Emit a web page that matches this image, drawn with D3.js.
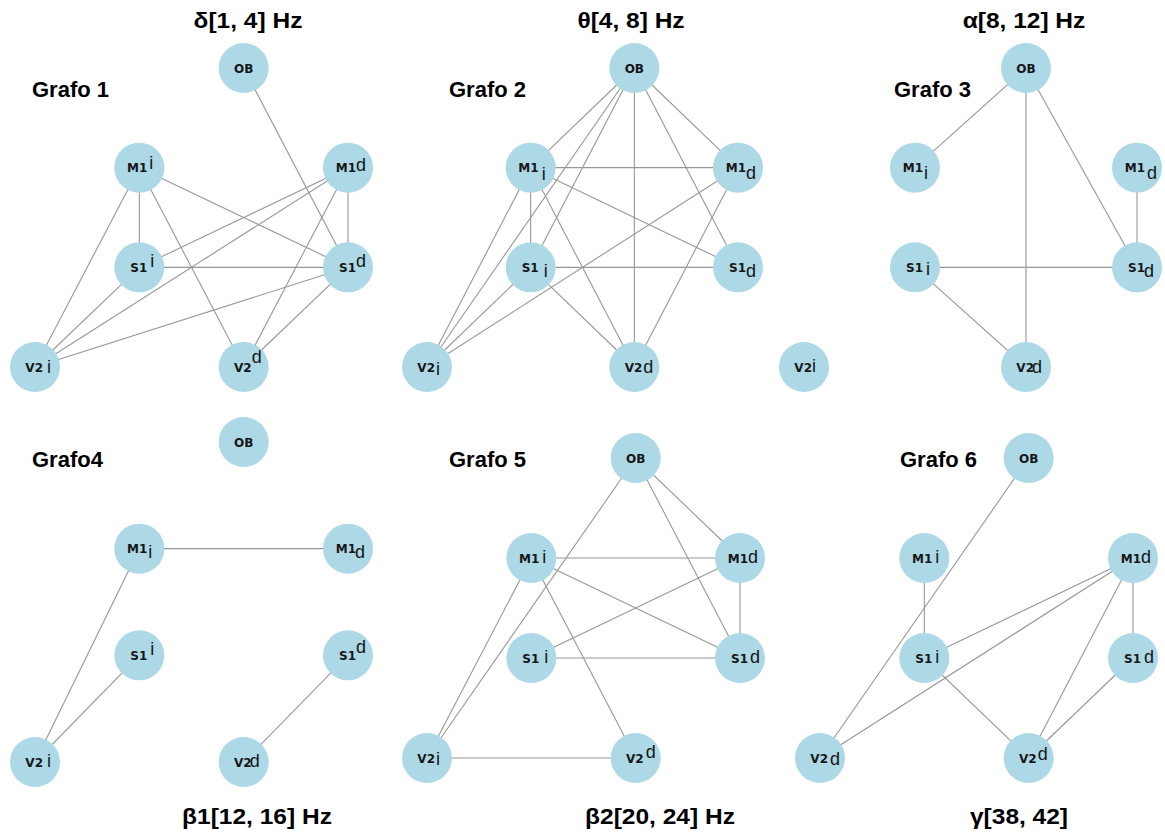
<!DOCTYPE html>
<html>
<head>
<meta charset="utf-8">
<script src="https://cdn.jsdelivr.net/npm/d3@7"></script>
<style>
  html, body { margin: 0; padding: 0; background: #ffffff; }
  svg { display: block; }
</style>
</head>
<body>
<svg id="chart" width="1165" height="835"></svg>
<script>
// Frequency bands and graph names
const bandTitles = ["δ[1, 4] Hz", "θ[4, 8] Hz", "α[8, 12] Hz", "β1[12, 16] Hz", "β2[20, 24] Hz", "γ[38, 42]"];
const graphNames = ["Grafo 1", "Grafo 2", "Grafo 3", "Grafo4", "Grafo 5", "Grafo 6"];

// Nodes (regions) shared by every graph
const nodeIds = ["OB", "M1i", "M1d", "S1i", "S1d", "V2i", "V2d"];
const nodeBase = ["OB", "M1", "M1", "S1", "S1", "V2", "V2"];
const suffixes1 = ["", "i", "d", "i", "d", "i", "d"];
const suffixes2 = ["", "i", "d", "i", "d", "i", "d"];
const suffixes3 = ["", "i", "d", "i", "d", "i", "d"];
const suffixes4 = ["", "i", "d", "i", "d", "i", "d"];
const suffixes5 = ["", "i", "d", "i", "d", "i", "d"];
const suffixes6 = ["", "i", "d", "i", "d", "d", "d"];

// Connections found in each band
const edges1 = [["OB","S1d"],["M1i","S1i"],["M1i","S1d"],["M1i","V2i"],["M1i","V2d"],["M1d","S1i"],["M1d","V2i"],["M1d","V2d"],["M1d","S1d"],["S1i","S1d"],["S1i","V2i"],["S1d","V2i"],["S1d","V2d"]];
const edges2 = [["OB","M1i"],["OB","S1i"],["OB","V2i"],["OB","V2d"],["OB","M1d"],["OB","S1d"],["M1i","M1d"],["M1i","S1i"],["M1i","S1d"],["M1i","V2i"],["M1i","V2d"],["M1d","V2i"],["M1d","V2d"],["S1i","S1d"],["S1i","V2i"],["S1i","V2d"]];
const edges3 = [["OB","M1i"],["OB","V2d"],["OB","S1d"],["M1d","S1d"],["S1i","S1d"],["S1i","V2d"]];
const edges4 = [["M1i","M1d"],["M1i","V2i"],["S1i","V2i"],["S1d","V2d"]];
const edges5 = [["OB","V2i"],["OB","M1d"],["OB","S1d"],["M1i","M1d"],["M1i","S1d"],["M1i","V2i"],["M1i","V2d"],["M1d","S1i"],["M1d","S1d"],["S1i","S1d"],["V2i","V2d"]];
const edges6 = [["OB","V2i"],["M1i","S1i"],["M1d","S1i"],["M1d","V2i"],["M1d","V2d"],["M1d","S1d"],["S1i","V2d"],["S1d","V2d"]];

// ---- layout ----
// grid cell (column,row) of each node
const gridCol = { OB: 2, M1i: 1, M1d: 3, S1i: 1, S1d: 3, V2i: 0, V2d: 2 };
const gridRow = { OB: 0, M1i: 1, M1d: 1, S1i: 2, S1d: 2, V2i: 3, V2d: 3 };

const panels = [
  { x: [35, 348],  y: [68, 367],  title: [248, 28],  name: [32, 97],  suffixes: suffixes1, edges: edges1,
    sdy: [0, 1, 3, 0, 0, 6, -4], gap: [0, 2, 0, 3, 0, 4, 0] },
  { x: [427, 738], y: [68, 367],  title: [631, 28],  name: [449, 97], suffixes: suffixes2, edges: edges2,
    sdy: [0, 12, 11, 10, 10, 8, 6], gap: [0, 3, 0, 5, 0, 1, 1] },
  { x: [804, 1137], y: [68, 367], title: [1024, 28], name: [894, 97], suffixes: suffixes3, edges: edges3,
    sdy: [0, 11, 11, 8, 10, 5, 6], gap: [0, 1, 2, 3, -1, 0, -2] },
  { x: [35, 348],  y: [442, 762], title: [257, 824], name: [32, 467], suffixes: suffixes4, edges: edges4,
    sdy: [0, 9, 9, 0, -2, 5, 5], gap: [0, 1, -1, 3, 0, 4, -2] },
  { x: [427, 740], y: [458, 758], title: [660, 824], name: [449, 467], suffixes: suffixes5, edges: edges5,
    sdy: [0, 5, 5, 5, 5, 7, 0], gap: [0, 3, 0, 5, 2, 1, 2] },
  { x: [820, 1133], y: [458, 758], title: [1019, 824], name: [900, 467], suffixes: suffixes6, edges: edges6,
    sdy: [0, 5, 5, 5, 5, 7, 2], gap: [0, 3, 0, 3, 3, 2, 1] }
];

const nodeRadius = 25;
const svg = d3.select("#chart");
svg.append("rect").attr("width", 1165).attr("height", 835).attr("fill", "#ffffff");

panels.forEach((p, k) => {
  const sx = d3.scaleLinear().domain([0, 3]).range(p.x);
  const sy = d3.scaleLinear().domain([0, 3]).range(p.y);
  const pos = id => [sx(gridCol[id]), sy(gridRow[id])];
  const g = svg.append("g").attr("class", "graph");

  // edges
  g.selectAll("line.edge").data(p.edges).join("line")
    .attr("class", "edge")
    .attr("x1", d => pos(d[0])[0]).attr("y1", d => pos(d[0])[1])
    .attr("x2", d => pos(d[1])[0]).attr("y2", d => pos(d[1])[1])
    .attr("stroke", "#979797").attr("stroke-width", 1.1);

  // nodes
  const nodes = nodeIds.map((id, i) => ({ id, i, base: nodeBase[i], suffix: p.suffixes[i] }));
  const ng = g.selectAll("g.node").data(nodes).join("g")
    .attr("class", "node")
    .attr("transform", d => `translate(${pos(d.id)[0]},${pos(d.id)[1]})`);

  ng.append("circle").attr("r", nodeRadius).attr("fill", "#add8e6");

  ng.append("text")
    .attr("x", d => d.suffix ? 8 : 0)
    .attr("y", 4.5)
    .attr("text-anchor", d => d.suffix ? "end" : "middle")
    .attr("font-family", "DejaVu Sans, sans-serif")
    .attr("font-weight", "bold")
    .attr("font-size", 12)
    .attr("fill", "#161616")
    .text(d => d.base);

  ng.filter(d => d.suffix).append("text")
    .attr("x", d => 8 + p.gap[d.i])
    .attr("y", d => p.sdy[d.i])
    .attr("text-anchor", "start")
    .attr("font-family", "Liberation Sans, Arial, sans-serif")
    .attr("font-size", 18)
    .attr("fill", "#161616")
    .text(d => d.suffix);

  // band title (slightly widened bold face)
  svg.append("text")
    .attr("transform", `translate(${p.title[0]},${p.title[1]}) scale(1.14,1)`)
    .attr("text-anchor", "middle")
    .attr("font-family", "Liberation Sans, Arial, sans-serif")
    .attr("font-weight", "bold")
    .attr("font-size", 21.5)
    .attr("fill", "#000")
    .text(bandTitles[k]);

  // graph name
  svg.append("text")
    .attr("x", p.name[0]).attr("y", p.name[1])
    .attr("font-family", "Liberation Sans, Arial, sans-serif")
    .attr("font-weight", "bold")
    .attr("font-size", 22)
    .attr("fill", "#000")
    .text(graphNames[k]);
});
</script>
</body>
</html>
